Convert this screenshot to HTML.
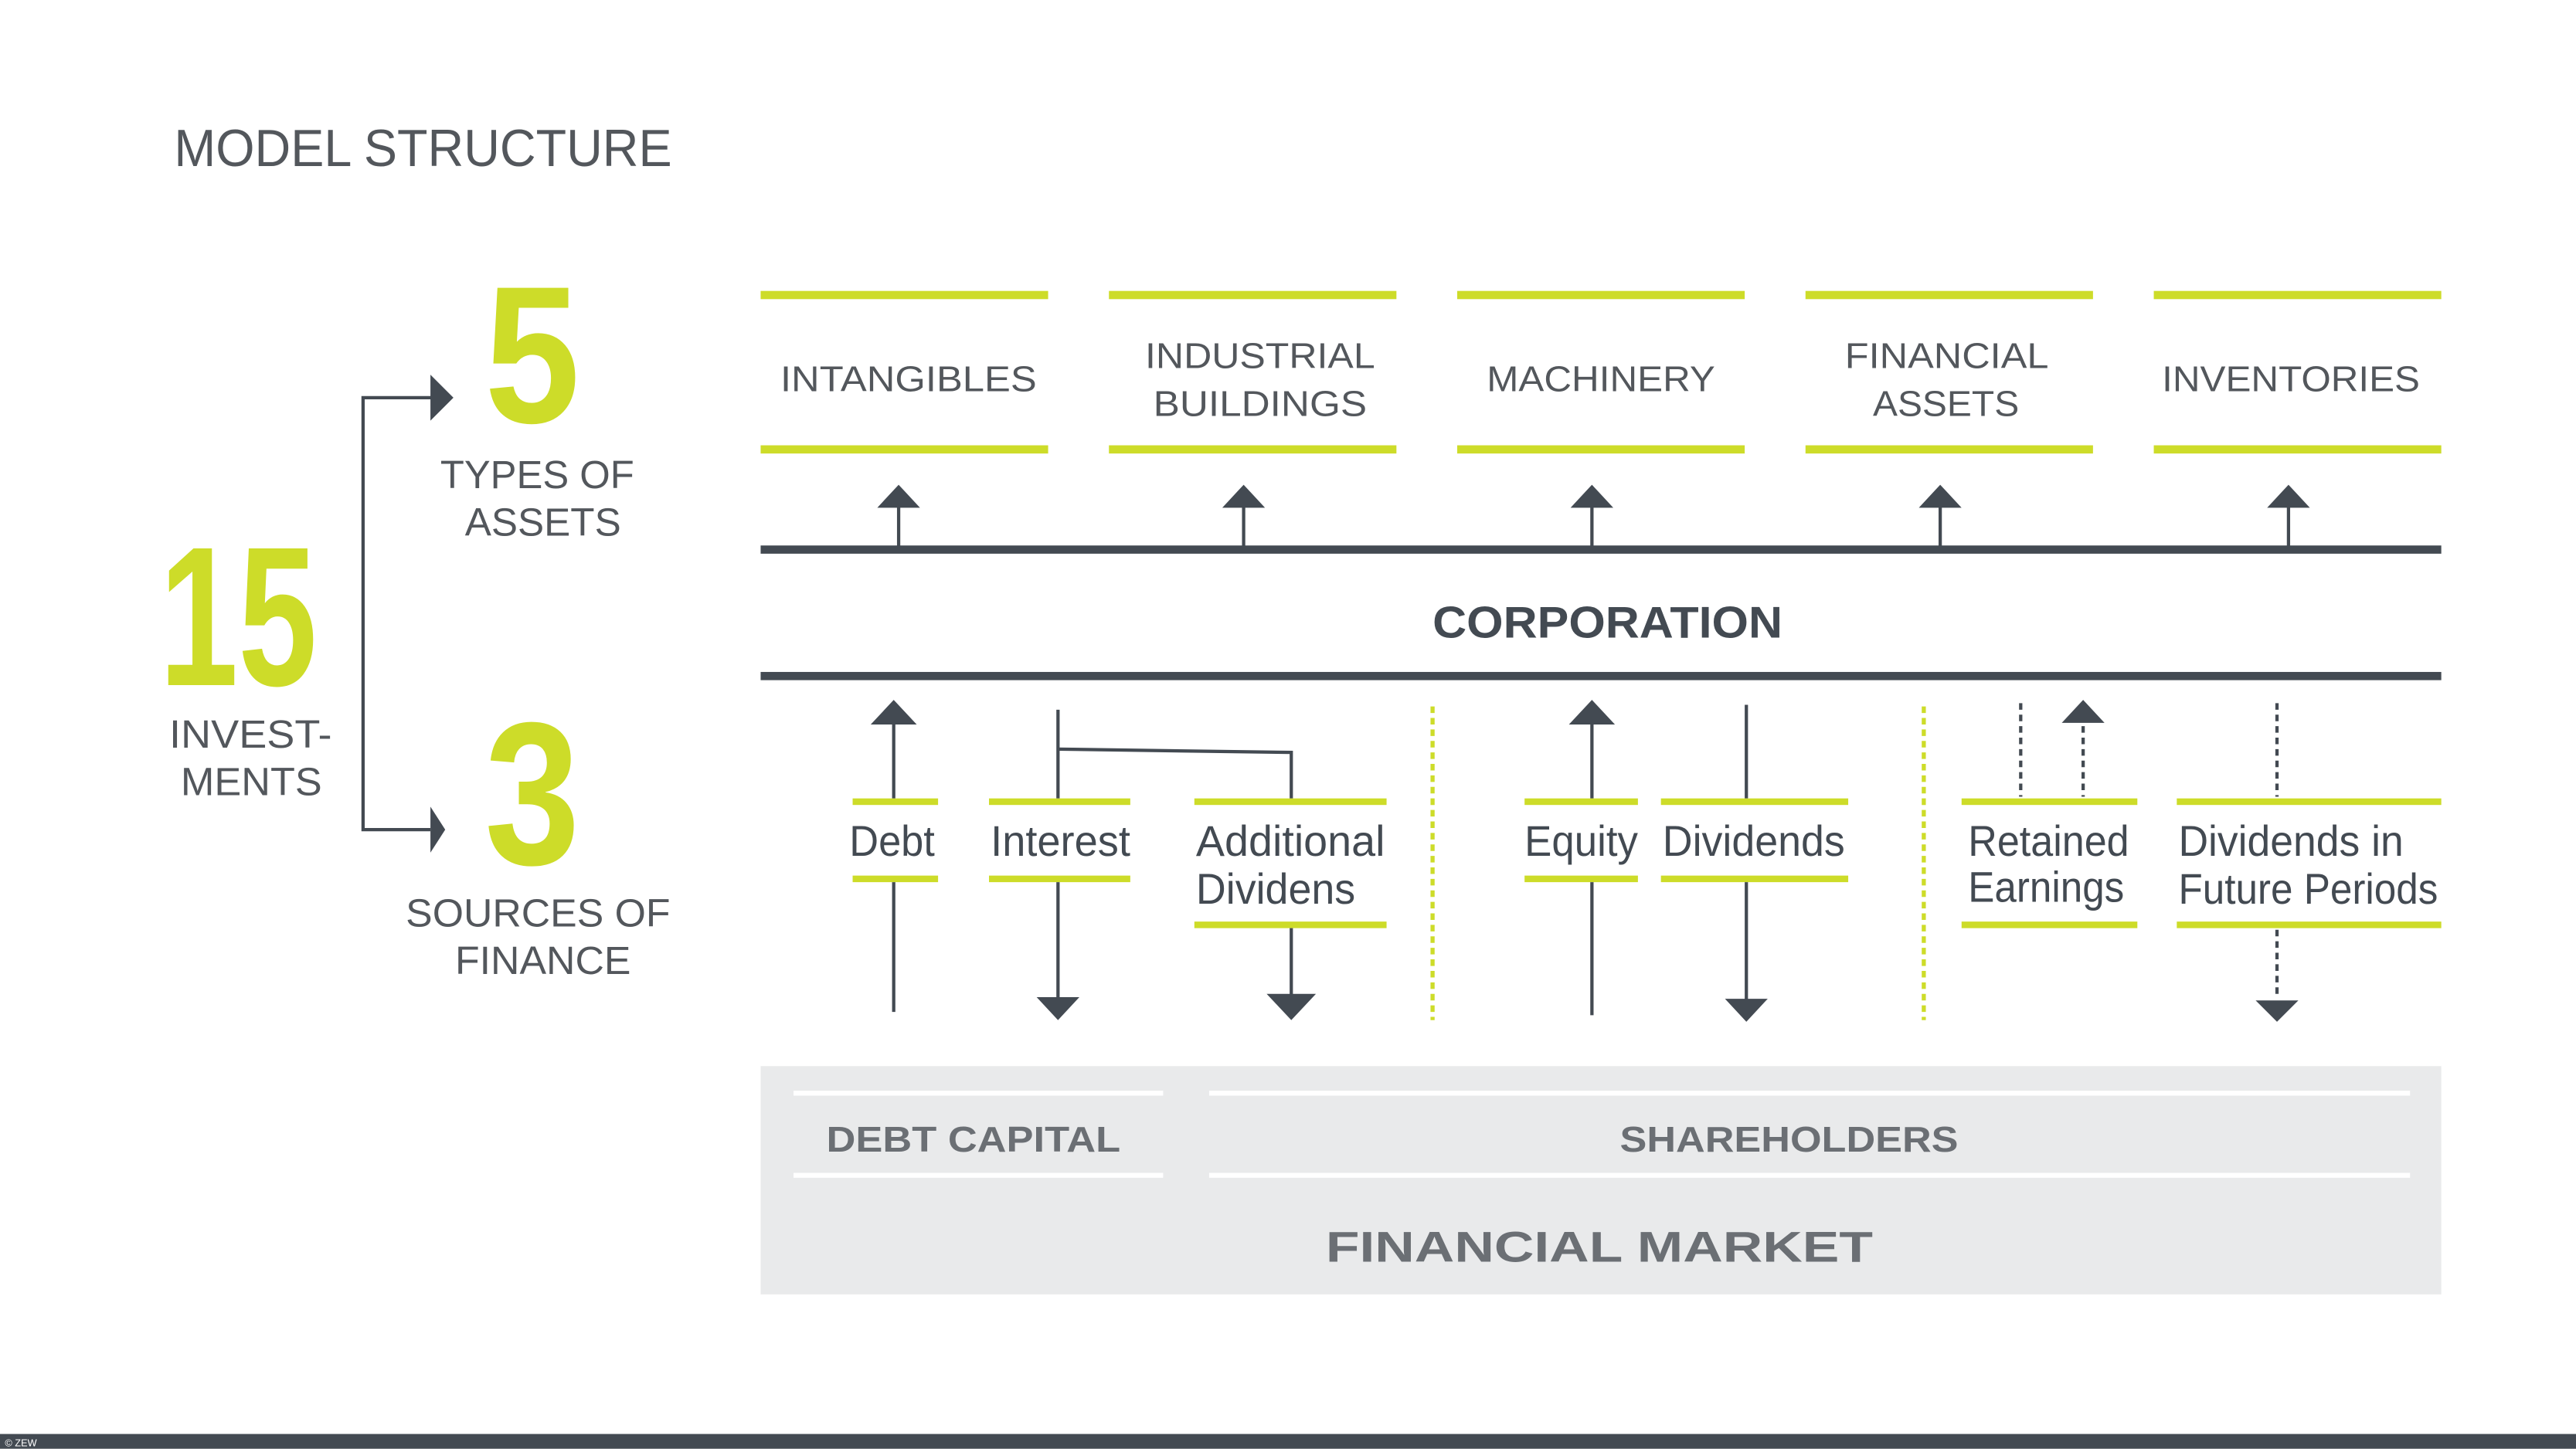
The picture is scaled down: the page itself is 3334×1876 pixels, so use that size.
<!DOCTYPE html>
<html><head><meta charset="utf-8"><style>
html,body{margin:0;padding:0;background:#fff;}
svg{display:block;}
text{font-family:"Liberation Sans",sans-serif;}
</style></head><body>
<svg width="3334" height="1876" viewBox="0 0 1568 882" xmlns="http://www.w3.org/2000/svg">
<rect width="1568" height="882" fill="#fff"/>
<g fill="#53575c" font-size="32">
<text x="106" y="101" textLength="303" lengthAdjust="spacingAndGlyphs">MODEL STRUCTURE</text>
</g>
<!-- big numbers -->
<g fill="#cddc29" font-weight="bold">
<text x="97" y="417" font-size="121" textLength="96" lengthAdjust="spacingAndGlyphs">15</text>
<text x="295" y="257" font-size="119" textLength="58" lengthAdjust="spacingAndGlyphs">5</text>
<text x="295" y="526" font-size="124" textLength="58" lengthAdjust="spacingAndGlyphs">3</text>
</g>
<g fill="#53575c" font-size="24">
<text x="103" y="455" textLength="99" lengthAdjust="spacingAndGlyphs">INVEST-</text>
<text x="110" y="484" textLength="86" lengthAdjust="spacingAndGlyphs">MENTS</text>
<text x="268" y="297" textLength="118" lengthAdjust="spacingAndGlyphs">TYPES OF</text>
<text x="283" y="326" textLength="95" lengthAdjust="spacingAndGlyphs">ASSETS</text>
<text x="247" y="564" textLength="161" lengthAdjust="spacingAndGlyphs">SOURCES OF</text>
<text x="277" y="593" textLength="107" lengthAdjust="spacingAndGlyphs">FINANCE</text>
</g>
<g stroke="#434a52" stroke-width="2" fill="none">
<polyline points="263,242 221,242 221,505 262,505"/>
</g>
<g fill="#434a52">
<polygon points="262,228 276,242 262,256"/>
<polygon points="262,491 271,505 262,519"/>
</g>
<!-- top asset boxes -->
<g fill="#cddc29">
<rect x="463" y="177" width="175" height="5"/><rect x="463" y="271" width="175" height="5"/>
<rect x="675" y="177" width="175" height="5"/><rect x="675" y="271" width="175" height="5"/>
<rect x="887" y="177" width="175" height="5"/><rect x="887" y="271" width="175" height="5"/>
<rect x="1099" y="177" width="175" height="5"/><rect x="1099" y="271" width="175" height="5"/>
<rect x="1311" y="177" width="175" height="5"/><rect x="1311" y="271" width="175" height="5"/>
</g>
<g fill="#53575c" font-size="22">
<text x="475" y="238" textLength="156" lengthAdjust="spacingAndGlyphs">INTANGIBLES</text>
<text x="697" y="224" textLength="140" lengthAdjust="spacingAndGlyphs">INDUSTRIAL</text>
<text x="702" y="253" textLength="130" lengthAdjust="spacingAndGlyphs">BUILDINGS</text>
<text x="905" y="238" textLength="139" lengthAdjust="spacingAndGlyphs">MACHINERY</text>
<text x="1123" y="224" textLength="124" lengthAdjust="spacingAndGlyphs">FINANCIAL</text>
<text x="1140" y="253" textLength="89" lengthAdjust="spacingAndGlyphs">ASSETS</text>
<text x="1316" y="238" textLength="157" lengthAdjust="spacingAndGlyphs">INVENTORIES</text>
</g>
<!-- up arrows to assets -->
<g stroke="#434a52" stroke-width="2">
<line x1="547" y1="308" x2="547" y2="334"/><line x1="757" y1="308" x2="757" y2="334"/>
<line x1="969" y1="308" x2="969" y2="334"/><line x1="1181" y1="308" x2="1181" y2="334"/>
<line x1="1393" y1="308" x2="1393" y2="334"/>
</g>
<g fill="#434a52">
<polygon points="547,295 534,309 560,309"/><polygon points="757,295 744,309 770,309"/>
<polygon points="969,295 956,309 982,309"/><polygon points="1181,295 1168,309 1194,309"/>
<polygon points="1393,295 1380,309 1406,309"/>
<rect x="463" y="332" width="1023" height="5"/>
<rect x="463" y="409" width="1023" height="5"/>
</g>
<text x="872" y="388" font-size="27" font-weight="bold" fill="#434a52" textLength="213" lengthAdjust="spacingAndGlyphs">CORPORATION</text>
<!-- finance section bars -->
<g fill="#cddc29">
<rect x="519" y="486" width="52" height="4"/><rect x="519" y="533" width="52" height="4"/>
<rect x="602" y="486" width="86" height="4"/><rect x="602" y="533" width="86" height="4"/>
<rect x="727" y="486" width="117" height="4"/><rect x="727" y="561" width="117" height="4"/>
<rect x="928" y="486" width="69" height="4"/><rect x="928" y="533" width="69" height="4"/>
<rect x="1011" y="486" width="114" height="4"/><rect x="1011" y="533" width="114" height="4"/>
<rect x="1194" y="486" width="107" height="4"/><rect x="1194" y="561" width="107" height="4"/>
<rect x="1325" y="486" width="161" height="4"/><rect x="1325" y="561" width="161" height="4"/>
</g>
<g stroke="#cddc29" stroke-width="2.5" stroke-dasharray="4,3">
<line x1="872" y1="430" x2="872" y2="621"/>
<line x1="1171" y1="430" x2="1171" y2="621"/>
</g>
<g fill="#434a52" font-size="26">
<text x="517" y="521" textLength="52" lengthAdjust="spacingAndGlyphs">Debt</text>
<text x="603" y="521" textLength="85" lengthAdjust="spacingAndGlyphs">Interest</text>
<text x="728" y="521" textLength="115" lengthAdjust="spacingAndGlyphs">Additional</text>
<text x="728" y="550" textLength="97" lengthAdjust="spacingAndGlyphs">Dividens</text>
<text x="928" y="521" textLength="69" lengthAdjust="spacingAndGlyphs">Equity</text>
<text x="1012" y="521" textLength="111" lengthAdjust="spacingAndGlyphs">Dividends</text>
<text x="1198" y="521" textLength="98" lengthAdjust="spacingAndGlyphs">Retained</text>
<text x="1198" y="549" textLength="95" lengthAdjust="spacingAndGlyphs">Earnings</text>
<text x="1326" y="521" textLength="137" lengthAdjust="spacingAndGlyphs">Dividends in</text>
<text x="1326" y="550" textLength="158" lengthAdjust="spacingAndGlyphs">Future Periods</text>
</g>
<g stroke="#434a52" stroke-width="2" fill="none">
<line x1="544" y1="440" x2="544" y2="486"/><line x1="544" y1="537" x2="544" y2="616"/>
<line x1="644" y1="432" x2="644" y2="486"/><line x1="644" y1="537" x2="644" y2="608"/>
<polyline points="644,456 786,458 786,486"/>
<line x1="786" y1="565" x2="786" y2="608"/>
<line x1="969" y1="440" x2="969" y2="486"/><line x1="969" y1="537" x2="969" y2="618"/>
<line x1="1063" y1="429" x2="1063" y2="486"/><line x1="1063" y1="537" x2="1063" y2="610"/>
</g>
<g stroke="#434a52" stroke-width="2" stroke-dasharray="4,3">
<line x1="1230" y1="428" x2="1230" y2="485"/>
<line x1="1268" y1="442" x2="1268" y2="485"/>
<line x1="1386" y1="428" x2="1386" y2="485"/>
<line x1="1386" y1="566" x2="1386" y2="608"/>
</g>
<g fill="#434a52">
<polygon points="544,426 530,441 558,441"/>
<polygon points="969,426 955,441 983,441"/>
<polygon points="1268,426 1255,440 1281,440"/>
<polygon points="644,621 631,607 657,607"/>
<polygon points="786,621 771,605 801,605"/>
<polygon points="1063,622 1050,608 1076,608"/>
<polygon points="1386,622 1373,609 1399,609"/>
</g>
<!-- financial market -->
<rect x="463" y="649" width="1023" height="139" fill="#e9eaeb"/>
<g fill="#fff">
<rect x="483" y="664" width="225" height="3"/><rect x="483" y="714" width="225" height="3"/>
<rect x="736" y="664" width="731" height="3"/><rect x="736" y="714" width="731" height="3"/>
</g>
<g fill="#6b6f74" font-weight="bold">
<text x="503" y="701" font-size="22" textLength="179" lengthAdjust="spacingAndGlyphs">DEBT CAPITAL</text>
<text x="986" y="701" font-size="22" textLength="206" lengthAdjust="spacingAndGlyphs">SHAREHOLDERS</text>
<text x="807" y="768" font-size="26" textLength="333" lengthAdjust="spacingAndGlyphs">FINANCIAL MARKET</text>
</g>
<rect x="0" y="873" width="1568" height="9" fill="#434a52"/>
<text x="3" y="880.5" font-size="6" fill="#fff">© ZEW</text>
</svg>
</body></html>
